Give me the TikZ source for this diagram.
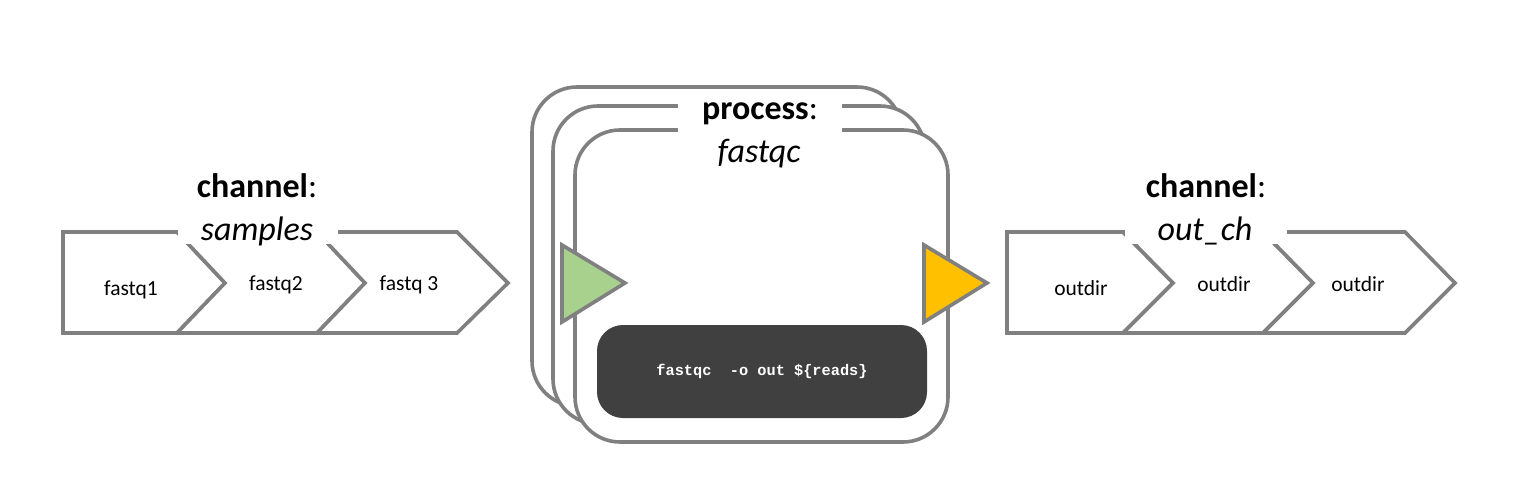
\documentclass[tikz,border=0pt]{standalone}
\usepackage{fontspec}
\setmainfont{Carlito}
\newfontfamily\codefont{Liberation Mono}
\definecolor{edgegray}{HTML}{808080}
\definecolor{ingreen}{HTML}{A9D18E}
\definecolor{outorange}{HTML}{FFC000}
\definecolor{codebg}{HTML}{404040}
\tikzset{
  outline/.style={draw=edgegray, line width=3.6pt, line join=miter, fill=white},
  roundbox/.style={draw=edgegray, line width=3.6pt, fill=white, rounded corners=45pt},
  itemlabel/.style={anchor=base, inner sep=0pt, font=\fontsize{21.5}{25}\selectfont},
  titlebold/.style={anchor=base, inner sep=0pt, font=\fontsize{34}{40}\selectfont\bfseries},
  titleital/.style={anchor=base, inner sep=0pt, font=\fontsize{34}{40}\selectfont\itshape},
  gapbox/.style={fill=white, draw=none, inner sep=0pt},
  port/.style={draw=edgegray, line width=3.6pt, line join=miter},
}
\begin{document}
\begin{tikzpicture}[x=1pt,y=-1pt]
\useasboundingbox (0,0) rectangle (1530,492);
% ---- left channel
\draw[outline] (63,232) -- (177,232) -- (225,283) -- (177,333) -- (63,333) -- cycle;
\draw[outline] (177,232) -- (317,232) -- (365,283) -- (317,333) -- (177,333) -- (225,283) -- cycle;
\draw[outline] (317,232) -- (457,232) -- (508,283) -- (457,333) -- (317,333) -- (365,283) -- cycle;
\node[itemlabel] (f1) at (131,295) {fastq1};
\node[itemlabel] (f2) at (276,290) {fastq2};
\node[itemlabel] (f3) at (409,290) {fastq 3};
\node[gapbox, minimum width=160, minimum height=22] (gapL) at (258,233) {};
\node[titlebold] (chL) at (257,197) {channel\mdseries:};
\node[titleital] (smp) at (257,240) {samples};
% ---- right channel
\draw[outline] (1007,232) -- (1123,232) -- (1173,283) -- (1123,333) -- (1007,333) -- cycle;
\draw[outline] (1123,232) -- (1263,232) -- (1313,283) -- (1263,333) -- (1123,333) -- (1173,283) -- cycle;
\draw[outline] (1263,232) -- (1405,232) -- (1455,283) -- (1405,333) -- (1263,333) -- (1313,283) -- cycle;
\node[itemlabel] (o1) at (1081,295) {outdir};
\node[itemlabel] (o2) at (1224,291) {outdir};
\node[itemlabel] (o3) at (1358,291) {outdir};
\node[gapbox, minimum width=162, minimum height=22] (gapR) at (1206,233) {};
\node[titlebold] (chR) at (1206,197) {channel\mdseries:};
\node[titleital] (och) at (1205,240) {out\_ch};
% ---- process
\draw[roundbox] (532,87) rectangle (902,406);
\draw[roundbox] (553,106) rectangle (925,424);
\draw[roundbox] (575,130) rectangle (948,442);
\node[gapbox, minimum width=164, minimum height=42] (gapP) at (760,119) {};
\node[titlebold] (pr) at (760,120) {process\mdseries:};
\node[titleital] (fq) at (759,162) {fastqc};
\draw[port, fill=ingreen] (562,245) -- (625,283) -- (562,322) -- cycle;
\draw[port, fill=outorange] (924,245) -- (987,283) -- (924,322) -- cycle;
\node[fill=codebg, rounded corners=26pt, minimum width=330, minimum height=93, inner sep=0pt,
      text=white, font=\codefont\bfseries\fontsize{15.3}{18}\selectfont] (code) at (762,371.5)
      {fastqc\ \ -o out \$\{reads\}};
\end{tikzpicture}
\end{document}
